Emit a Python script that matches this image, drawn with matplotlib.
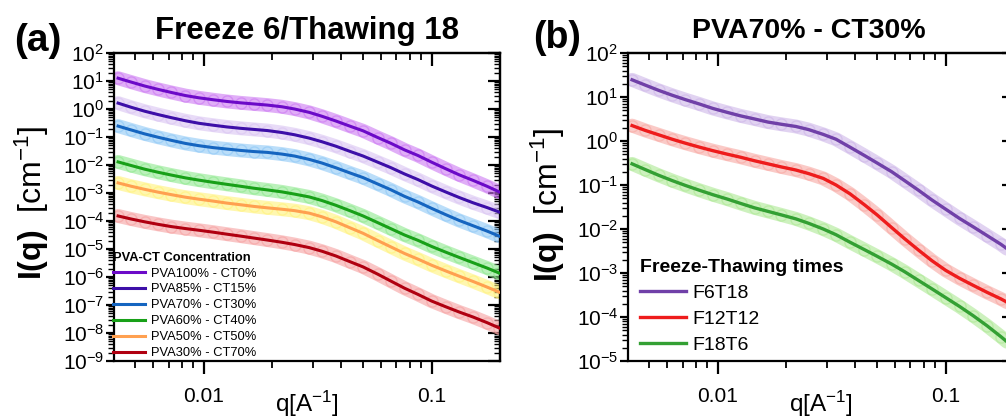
import numpy as np
import matplotlib
matplotlib.use("Agg")
import matplotlib.pyplot as plt
from matplotlib.ticker import LogLocator, FuncFormatter, NullFormatter

plt.rcParams['font.family'] = ['Liberation Sans', 'DejaVu Sans']
plt.rcParams['mathtext.fontset'] = 'custom'
plt.rcParams['mathtext.rm'] = 'Liberation Sans'
plt.rcParams['mathtext.it'] = 'Liberation Sans:italic'
plt.rcParams['mathtext.bf'] = 'Liberation Sans:bold'

# ---------------- data ----------------
q = [0.0042, 0.0048, 0.0055, 0.0063, 0.0072, 0.0083, 0.0095, 0.011, 0.0126,
     0.0145, 0.0166, 0.019, 0.022, 0.025, 0.029, 0.033, 0.038, 0.044, 0.05,
     0.058, 0.066, 0.076, 0.087, 0.1, 0.115, 0.132, 0.152, 0.175, 0.198]

# panel (a): log10 of I(q) [cm^-1]
pva100_log10I = [1.10, 0.96, 0.82, 0.70, 0.59, 0.48, 0.40, 0.33, 0.27, 0.22,
                 0.18, 0.14, 0.08, 0.00, -0.12, -0.26, -0.43, -0.62, -0.78,
                 -1.02, -1.22, -1.46, -1.66, -1.90, -2.13, -2.35, -2.55, -2.76, -2.96]
pva85_log10I = [0.21, 0.06, -0.08, -0.20, -0.31, -0.42, -0.51, -0.58, -0.64, -0.69,
                -0.73, -0.77, -0.84, -0.92, -1.04, -1.17, -1.33, -1.52, -1.68,
                -1.90, -2.09, -2.32, -2.52, -2.75, -2.96, -3.16, -3.35, -3.52, -3.68]
pva70_log10I = [-0.61, -0.75, -0.89, -1.01, -1.12, -1.23, -1.31, -1.38, -1.43, -1.48,
                -1.52, -1.55, -1.61, -1.68, -1.80, -1.93, -2.10, -2.29, -2.45,
                -2.68, -2.88, -3.12, -3.32, -3.55, -3.77, -3.98, -4.17, -4.36, -4.54]
pva60_log10I = [-1.89, -2.02, -2.15, -2.26, -2.36, -2.46, -2.54, -2.62, -2.69, -2.76,
                -2.83, -2.89, -2.96, -3.04, -3.14, -3.27, -3.44, -3.64, -3.82,
                -4.06, -4.27, -4.50, -4.69, -4.91, -5.11, -5.30, -5.49, -5.68, -5.86]
pva50_log10I = [-2.64, -2.76, -2.87, -2.97, -3.06, -3.15, -3.22, -3.29, -3.36, -3.42,
                -3.48, -3.53, -3.58, -3.63, -3.72, -3.85, -4.03, -4.25, -4.44,
                -4.70, -4.92, -5.16, -5.36, -5.58, -5.78, -5.97, -6.16, -6.36, -6.54]
pva30_log10I = [-3.82, -3.93, -4.03, -4.12, -4.20, -4.27, -4.33, -4.40, -4.47, -4.54,
                -4.61, -4.68, -4.76, -4.84, -4.95, -5.08, -5.25, -5.46, -5.64,
                -5.90, -6.14, -6.40, -6.62, -6.86, -7.06, -7.25, -7.43, -7.63, -7.82]

a_labels = ["PVA100% - CT0%", "PVA85% - CT15%", "PVA70% - CT30%",
            "PVA60% - CT40%", "PVA50% - CT50%", "PVA30% - CT70%"]
a_line_colors = ["#6c0ac8", "#3d0fa8", "#1565c0", "#18a018", "#ffa050", "#b00010"]
a_data_colors = ["#cc78f2", "#d9c4f2", "#8ec8f6", "#8ee88e", "#fff27a", "#f6a0a0"]

# panel (b): log10 of I(q) [cm^-1]
f6t18_log10I = [1.39, 1.27, 1.15, 1.04, 0.94, 0.84, 0.74, 0.65, 0.57, 0.50,
                0.43, 0.38, 0.33, 0.26, 0.15, 0.04, -0.14, -0.33, -0.50,
                -0.70, -0.90, -1.12, -1.34, -1.55, -1.76, -1.95, -2.15, -2.35, -2.55]
f12t12_log10I = [0.35, 0.24, 0.14, 0.04, -0.05, -0.14, -0.22, -0.30, -0.37, -0.45,
                 -0.52, -0.59, -0.66, -0.74, -0.85, -1.00, -1.20, -1.45, -1.68,
                 -1.97, -2.22, -2.48, -2.72, -2.94, -3.12, -3.28, -3.44, -3.59, -3.74]
f18t6_log10I = [-0.52, -0.65, -0.78, -0.90, -1.01, -1.12, -1.22, -1.32, -1.42, -1.52,
                -1.60, -1.68, -1.77, -1.87, -2.00, -2.13, -2.30, -2.47, -2.62,
                -2.80, -2.97, -3.17, -3.36, -3.56, -3.76, -3.97, -4.20, -4.45, -4.68]

b_labels = ["F6T18", "F12T12", "F18T6"]
b_line_colors = ["#7040a8", "#ee1c1c", "#33a033"]
b_data_colors = ["#cdb6e8", "#f8a8a2", "#ade894"]

a_series = [pva100_log10I, pva85_log10I, pva70_log10I, pva60_log10I, pva50_log10I, pva30_log10I]
b_series = [f6t18_log10I, f12t12_log10I, f18t6_log10I]

# ---------------- figure ----------------
W, H = 1006, 419
fig = plt.figure(figsize=(W / 100, H / 100), dpi=100)


def fx(px):
    return px / W


def fy(py):
    return 1 - py / H


ax_h = (361 - 53) / H
ax_w = 386 / W
axA = fig.add_axes([fx(114), fy(361), ax_w, ax_h])
axB = fig.add_axes([fx(628), fy(361), ax_w, ax_h])

xfmt = FuncFormatter(lambda v, p: {0.01: "0.01", 0.1: "0.1"}.get(round(v, 6), ""))


def style(ax, ylim):
    ax.set_xscale('log')
    ax.set_yscale('log')
    ax.set_xlim(0.00403, 0.1995)
    ax.set_ylim(*ylim)
    for s in ax.spines.values():
        s.set_linewidth(1.6)
    ax.xaxis.set_major_locator(LogLocator(base=10, numticks=20))
    ax.xaxis.set_minor_locator(LogLocator(base=10, subs=np.arange(2, 10), numticks=100))
    ax.xaxis.set_major_formatter(xfmt)
    ax.xaxis.set_minor_formatter(NullFormatter())
    ax.yaxis.set_major_locator(LogLocator(base=10, numticks=30))
    ax.yaxis.set_minor_locator(LogLocator(base=10, subs=np.arange(2, 10), numticks=200))
    ax.yaxis.set_minor_formatter(NullFormatter())
    ax.tick_params(axis='x', which='major', direction='out', length=9, width=1.6,
                   labelsize=15, pad=10)
    ax.tick_params(axis='x', which='minor', direction='out', length=5, width=1.3)
    ax.tick_params(axis='y', which='major', direction='out', length=6, width=1.6,
                   labelsize=15, pad=1)
    ax.tick_params(axis='y', which='minor', direction='out', length=4, width=1.0)
    top = ax.secondary_xaxis('top')
    top.xaxis.set_major_locator(LogLocator(base=10, numticks=20))
    top.xaxis.set_minor_locator(LogLocator(base=10, subs=np.arange(2, 10), numticks=100))
    top.tick_params(which='major', direction='in', length=9, width=1.6, labeltop=False)
    top.tick_params(which='minor', direction='in', length=5, width=1.3)
    top.spines['top'].set_linewidth(1.6)
    right = ax.secondary_yaxis('right')
    right.yaxis.set_major_locator(LogLocator(base=10, numticks=30))
    right.yaxis.set_minor_locator(LogLocator(base=10, subs=np.arange(2, 10), numticks=200))
    right.tick_params(which='major', direction='in', length=9, width=1.6, labelright=False)
    right.tick_params(which='minor', direction='in', length=4, width=1.0)
    right.spines['right'].set_linewidth(1.6)


def draw(ax, series, labels, lcols, dcols, lw):
    handles = []
    for vals, lab, lc, dc in zip(series, labels, lcols, dcols):
        I = 10.0 ** np.asarray(vals)
        ax.plot(q, I, '-', color=dc, lw=10, alpha=0.6, solid_capstyle='round', zorder=2)
        ax.plot(q, I, 'o', ms=8, mfc='none', mec=dc, mew=1.0, alpha=0.6, zorder=2)
    for vals, lab, lc, dc in zip(series, labels, lcols, dcols):
        I = 10.0 ** np.asarray(vals)
        h, = ax.plot(q, I, '-', color=lc, lw=lw, label=lab, zorder=3)
        handles.append(h)
    return handles


hA = draw(axA, a_series, a_labels, a_line_colors, a_data_colors, 2.2)
hB = draw(axB, b_series, b_labels, b_line_colors, b_data_colors, 2.4)
style(axA, (1e-9, 1e2))
style(axB, (1e-5, 1e2))

legA = axA.legend(handles=hA, title="PVA-CT Concentration", loc='upper left',
                  bbox_to_anchor=(-0.003, 0.355), frameon=False, fontsize=9.3,
                  title_fontproperties={'weight': 'bold', 'size': 9.3},
                  handlelength=2.5, handletextpad=0.45, labelspacing=0.3,
                  borderpad=0.0, borderaxespad=0.0, alignment='left')
legB = axB.legend(handles=hB, title="Freeze-Thawing times", loc='upper left',
                  bbox_to_anchor=(0.03, 0.33), frameon=False, fontsize=14,
                  title_fontproperties={'weight': 'bold', 'size': 14},
                  handlelength=2.4, handletextpad=0.3, labelspacing=0.42,
                  borderpad=0.0, borderaxespad=0.0, alignment='left')

# titles, panel letters, axis labels
fig.text(fx(307), fy(31), "Freeze 6/Thawing 18", ha='center', va='center',
         fontsize=22.5, fontweight='bold')
fig.text(fx(809), fy(31), "PVA70% - CT30%", ha='center', va='center',
         fontsize=20.5, fontweight='bold')
fig.text(fx(14), fy(41), "(a)", ha='left', va='center', fontsize=28, fontweight='bold')
fig.text(fx(533), fy(38), "(b)", ha='left', va='center', fontsize=27, fontweight='bold')

ylab = r"$\mathbf{I(q)}$  [cm$^{\mathregular{-1}}$]"
fig.text(fx(32), fy(203), ylab, rotation=90, ha='center', va='center', fontsize=23)
fig.text(fx(548), fy(205), ylab, rotation=90, ha='center', va='center', fontsize=23)
xlab = r"q[A$^{\mathregular{-1}}$]"
fig.text(fx(307), fy(389), xlab, ha='center', va='top', fontsize=17.5)
fig.text(fx(821), fy(389), xlab, ha='center', va='top', fontsize=17.5)

fig.savefig("out.png", dpi=100)
